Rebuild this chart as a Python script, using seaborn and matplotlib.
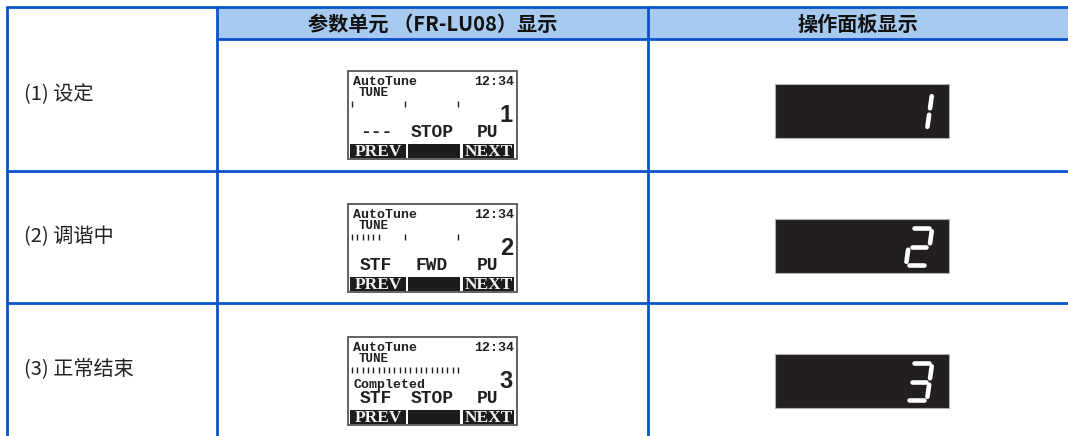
import matplotlib
matplotlib.use("Agg")
import matplotlib.pyplot as plt
import matplotlib.patches as patches
import seaborn as sns
import numpy as np


# table content
headerLabels = ["参数单元 （FR-LU08）显示", "操作面板显示"]
stepLabels = ["(1) 设定", "(2) 调谐中", "(3) 正常结束"]

# parameter unit (LCD) content
lcdTitle = ["AutoTune", "12:34", "TUNE"]
lcdDigits = ["1", "2", "3"]
lcdStatus = [["---", "STOP", "PU"], ["STF", "FWD", "PU"], ["STF", "STOP", "PU"]]
lcdMessages = ["", "", "Completed"]
tuneProgress = [0, 5, 20]
tuneSteps = 20
softKeys = ["PREV", "", "NEXT"]

# operation panel (7 segment) content
panelDigits = [1, 2, 3]
segmentMap = {1: "bc", 2: "abged", 3: "abgcd"}


# layout, in pixels of a 1068x436 image
W, H = 1068, 436
lineColor = "#0B53CB"
headerFill = "#A6CAF0"
inkColor = "#231F20"
colX = [7, 217, 648, W]
headerY = [7, 39]
rowY = [7, 171, 303, H]
labelY = [95, 237, 370]
lcdX, lcdW, lcdH = 348, 169, 88
lcdTop = [71, 204, 337]
panelX, panelW, panelH = 775, 174, 54
panelTop = [84, 219, 354]

cjk = ["Noto Sans CJK SC", "DejaVu Sans"]
mono = ["Liberation Mono", "DejaVu Sans Mono"]


class TableDrawer():
    def __init__(self):
        sns.set_theme(style="white")
        plt.rcParams["font.family"] = cjk
        self.fig = plt.figure(figsize=(W / 100, H / 100), dpi=100)
        self.ax = self.fig.add_axes([0, 0, 1, 1])
        self.ax.set_xlim(0, W)
        self.ax.set_ylim(H, 0)
        self.ax.axis("off")

    def drawGrid(self):
        ax = self.ax
        ax.add_patch(patches.Rectangle((colX[1], headerY[0]), W - colX[1], headerY[1] - headerY[0],
                                       facecolor=headerFill, edgecolor="none", zorder=1))
        lw = 2.0
        ax.plot([colX[0], W], [headerY[0], headerY[0]], color=lineColor, lw=lw, zorder=3)
        ax.plot([colX[1], W], [headerY[1], headerY[1]], color=lineColor, lw=lw, zorder=3)
        for y in rowY[1:-1]:
            ax.plot([colX[0], W], [y, y], color=lineColor, lw=lw, zorder=3)
        for x in colX[:-1]:
            ax.plot([x, x], [headerY[0], H], color=lineColor, lw=lw, zorder=3)

        for i, label in enumerate(headerLabels):
            ax.text((colX[i + 1] + colX[i + 2]) / 2, (headerY[0] + headerY[1]) / 2 + 1, label,
                    ha="center", va="center", fontsize=14.5, fontweight="bold", color="#111111")
        for label, y in zip(stepLabels, labelY):
            ax.text(colX[0] + 17, y, label, ha="left", va="center", fontsize=14.5, color="#222222")

    def drawLcd(self, i):
        ax = self.ax
        T = lcdTop[i]
        x0 = lcdX
        ax.add_patch(patches.Rectangle((x0, T), lcdW, lcdH, facecolor="white",
                                       edgecolor="#555555", lw=1.3, zorder=2))
        ax.text(x0 + 5, T + 11, lcdTitle[0], family=mono, fontweight="bold", fontsize=9.5,
                ha="left", va="center", color=inkColor)
        ax.text(x0 + lcdW - 3, T + 11, lcdTitle[1], family=mono, fontweight="bold", fontsize=9.5,
                ha="right", va="center", color=inkColor)
        ax.text(x0 + 11, T + 22, lcdTitle[2], family=mono, fontweight="bold", fontsize=9,
                ha="left", va="center", color=inkColor)

        # tuning progress ticks
        step = 106 / tuneSteps
        marks = set(range(tuneProgress[i] + 1)) | {0, tuneSteps // 2, tuneSteps}
        xs = [x0 + 4 + k * step for k in sorted(marks)]
        ax.vlines(xs, T + 30, T + 36, color=inkColor, lw=1.0, zorder=3)

        ax.text(x0 + lcdW - 4, T + 44, lcdDigits[i], family=["Liberation Sans", "DejaVu Sans"],
                fontweight="bold", fontsize=17, ha="right", va="center", color=inkColor)
        if lcdMessages[i]:
            ax.text(x0 + 5, T + 48, lcdMessages[i], family=mono, fontweight="bold", fontsize=9.5,
                    ha="left", va="center", color=inkColor)
        for word, cx in zip(lcdStatus[i], [28, 84, 139]):
            ax.text(x0 + cx, T + 61, word, family=mono, fontweight="bold", fontsize=13,
                    ha="center", va="center", color=inkColor)

        # soft keys
        for key, (kx, kw) in zip(softKeys, [(2, 56), (60, 52), (115, 51)]):
            ax.add_patch(patches.Rectangle((x0 + kx, T + 73), kw, 14, facecolor="#1C1C1C",
                                           edgecolor="none", zorder=3))
            if key:
                ax.text(x0 + kx + kw / 2, T + 80.5, key, family=["Liberation Serif", "DejaVu Serif"],
                        fontweight="bold", fontsize=12.5, ha="center", va="center",
                        color="#F2F2F2", zorder=4)

    def drawSevenSegment(self, i):
        ax = self.ax
        T = panelTop[i]
        ax.add_patch(patches.Rectangle((panelX, T), panelW, panelH, facecolor=inkColor,
                                       edgecolor="#B0B0B0", lw=0.8, zorder=2))
        w, h, g, slant = 21, 37, 3.2, 0.14
        left, bottom = panelX + panelW - 43, T + panelH - 8
        segs = {
            "a": [(g, h), (w - g, h)],
            "b": [(w, h - g), (w, h / 2 + g)],
            "c": [(w, h / 2 - g), (w, g)],
            "d": [(g, 0), (w - g, 0)],
            "e": [(0, g), (0, h / 2 - g)],
            "f": [(0, h / 2 + g), (0, h - g)],
            "g": [(g, h / 2), (w - g, h / 2)],
        }
        for s in segmentMap[panelDigits[i]]:
            pts = np.array(segs[s], dtype=float)
            xs = left + pts[:, 0] + slant * pts[:, 1]
            ys = bottom - pts[:, 1]
            ax.plot(xs, ys, color="white", lw=3.3, solid_capstyle="round", zorder=3)

    def save(self, filename):
        self.fig.savefig(filename, dpi=100)


drawer = TableDrawer()
drawer.drawGrid()
for i in range(len(stepLabels)):
    drawer.drawLcd(i)
    drawer.drawSevenSegment(i)
drawer.save("out.png")
